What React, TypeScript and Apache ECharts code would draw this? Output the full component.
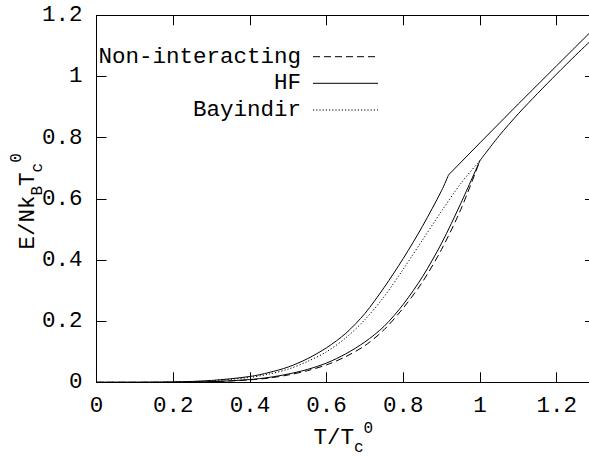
import React, { useEffect, useRef } from 'react';
import * as echarts from 'echarts';

// Temperatures T/Tc0 below the transition
const tBelow = [0, 0.1, 0.2, 0.3, 0.4, 0.45, 0.5, 0.55, 0.6, 0.65, 0.7, 0.75, 0.8, 0.85, 0.9, 0.95, 1.0];
// E/NkBTc0 values below the transition
const nonInteracting = [0, 0, 0.0003, 0.0018, 0.008, 0.014, 0.024, 0.038, 0.057, 0.084, 0.12, 0.172, 0.243, 0.328, 0.435, 0.565, 0.725];
const hfLower = [0, 0, 0.0004, 0.002, 0.009, 0.016, 0.027, 0.042, 0.063, 0.093, 0.132, 0.183, 0.255, 0.345, 0.455, 0.585, 0.725];
const bayindir = [0, 0, 0.001, 0.005, 0.016, 0.027, 0.043, 0.068, 0.1, 0.145, 0.205, 0.28, 0.37, 0.465, 0.56, 0.65, 0.725];

// HF upper branch (kinks at its own transition)
const tHfUpperBelow = [0, 0.1, 0.2, 0.3, 0.4, 0.45, 0.5, 0.55, 0.6, 0.65, 0.7, 0.75, 0.8, 0.85, 0.9, 0.918];
const hfUpperBelow = [0, 0, 0.001, 0.006, 0.019, 0.032, 0.05, 0.077, 0.113, 0.16, 0.225, 0.31, 0.405, 0.51, 0.627, 0.678];
const tHfUpperAbove = [0.918, 1.0, 1.1, 1.2, 1.3];
const hfUpperAbove = [0.678, 0.783, 0.91, 1.035, 1.16];

// Common branch above Tc
const tAbove = [1.0, 1.05, 1.1, 1.15, 1.2, 1.25, 1.3];
const eAbove = [0.725, 0.806, 0.878, 0.944, 1.008, 1.07, 1.13];

const xTicks = [0, 0.2, 0.4, 0.6, 0.8, 1, 1.2];
const yTicks = [0, 0.2, 0.4, 0.6, 0.8, 1, 1.2];

const legendNames = ['Non-interacting', 'HF', 'Bayindir'];

const FONT = "'Liberation Mono', 'Courier New', monospace";
const FS = 22.5;
const SUB = 16;

const pairs = (xs: number[], ys: number[]) => xs.map((x, i) => [x, ys[i]]);

const DASH = [7, 4];
const DOT = [1.2, 2];

export default function App() {
  const ref = useRef<HTMLDivElement>(null);
  useEffect(() => {
    const chart = echarts.init(ref.current!, null, { renderer: 'svg' });
    const axisCommon = {
      type: 'value' as const,
      axisLine: { show: true, onZero: false, lineStyle: { color: '#000', width: 1 } },
      axisTick: { show: true, inside: true, length: 10, lineStyle: { color: '#000', width: 1 } },
      splitLine: { show: false },
    };
    const lineSeries = (name: string, data: number[][], type: any, smooth = 0.3) => ({
      type: 'line',
      name,
      data,
      xAxisIndex: 0,
      yAxisIndex: 0,
      showSymbol: false,
      symbol: 'none',
      smooth,
      lineStyle: { color: '#000', width: 1, type },
      silent: true,
    });
    const legendY = [56.7, 83.3, 110];
    const legendDash: any[] = [DASH, 'solid', DOT];
    const graphic: any[] = [];
    legendNames.forEach((n, i) => {
      graphic.push({
        type: 'text',
        x: 301,
        y: legendY[i],
        style: { text: n, fontFamily: FONT, fontSize: FS, fill: '#000', align: 'right', verticalAlign: 'middle' },
      });
      graphic.push({
        type: 'line',
        shape: { x1: 313, y1: legendY[i], x2: 378, y2: legendY[i] },
        style: { stroke: '#000', lineWidth: 1, lineDash: legendDash[i] === 'solid' ? null : legendDash[i] },
      });
    });
    // x axis title T/Tc^0
    const xt = 313.5;
    const adv = FS * 0.6;
    const sadv = SUB * 0.6;
    graphic.push({ type: 'text', x: xt, y: 437.5, style: { text: 'T/T', fontFamily: FONT, fontSize: FS, fill: '#000', align: 'left', verticalAlign: 'middle' } });
    graphic.push({ type: 'text', x: xt + 3 * adv, y: 447.5, style: { text: 'c', fontFamily: FONT, fontSize: SUB, fill: '#000', align: 'left', verticalAlign: 'middle' } });
    graphic.push({ type: 'text', x: xt + 3 * adv + sadv, y: 429, style: { text: '0', fontFamily: FONT, fontSize: SUB, fill: '#000', align: 'left', verticalAlign: 'middle' } });
    // y axis title E/NkBTc^0 rotated
    graphic.push({
      type: 'group',
      x: 27.5,
      y: 249.5,
      rotation: Math.PI / 2,
      children: [
        { type: 'text', x: 0, y: 0, style: { text: 'E/Nk', fontFamily: FONT, fontSize: FS, fill: '#000', align: 'left', verticalAlign: 'middle' } },
        { type: 'text', x: 4 * adv, y: 10.5, style: { text: 'B', fontFamily: FONT, fontSize: SUB, fill: '#000', align: 'left', verticalAlign: 'middle' } },
        { type: 'text', x: 4 * adv + sadv, y: 0, style: { text: 'T', fontFamily: FONT, fontSize: FS, fill: '#000', align: 'left', verticalAlign: 'middle' } },
        { type: 'text', x: 5 * adv + sadv, y: 10.5, style: { text: 'c', fontFamily: FONT, fontSize: SUB, fill: '#000', align: 'left', verticalAlign: 'middle' } },
        { type: 'text', x: 5 * adv + 2 * sadv, y: -11, style: { text: '0', fontFamily: FONT, fontSize: SUB, fill: '#000', align: 'left', verticalAlign: 'middle' } },
      ],
    });

    chart.setOption({
      animation: false,
      backgroundColor: '#fff',
      grid: { left: 96.5, top: 15.3, width: 498.5, height: 367, containLabel: false },
      xAxis: [
        {
          ...axisCommon,
          position: 'bottom',
          min: 0,
          max: 1.3,
          interval: 0.2,
          axisLabel: {
            show: true,
            showMaxLabel: false,
            margin: 12,
            color: '#000',
            fontFamily: FONT,
            fontSize: FS,
            formatter: (v: number) => {
              const t = xTicks.find((k) => Math.abs(k - v) < 1e-6);
              return t === undefined ? '' : String(t);
            },
          },
        },
        { ...axisCommon, position: 'top', min: 0, max: 1.3, interval: 0.2, axisLabel: { show: false } },
      ],
      yAxis: [
        {
          ...axisCommon,
          position: 'left',
          min: 0,
          max: 1.2,
          interval: 0.2,
          axisLabel: {
            show: true,
            margin: 14,
            color: '#000',
            fontFamily: FONT,
            fontSize: FS,
            formatter: (v: number) => {
              const t = yTicks.find((k) => Math.abs(k - v) < 1e-6);
              return t === undefined ? '' : String(t);
            },
          },
        },
        { ...axisCommon, position: 'right', min: 0, max: 1.2, interval: 0.2, axisLabel: { show: false } },
      ],
      series: [
        lineSeries('Non-interacting', pairs(tBelow, nonInteracting), DASH),
        lineSeries('HF', pairs(tBelow, hfLower), 'solid'),
        lineSeries('Bayindir', pairs(tBelow, bayindir), DOT),
        lineSeries('HF upper', pairs(tHfUpperBelow, hfUpperBelow), 'solid'),
        lineSeries('HF upper above', pairs(tHfUpperAbove, hfUpperAbove), 'solid', 0),
        lineSeries('Above Tc', pairs(tAbove, eAbove), 'solid'),
      ],
      graphic,
    });
    return () => chart.dispose();
  }, []);
  return (
    <div style={{ position: 'fixed', left: 0, top: 0, width: 589, height: 456, overflow: 'hidden', background: '#fff' }}>
      <div ref={ref} style={{ width: 610, height: 456 }} />
    </div>
  );
}
